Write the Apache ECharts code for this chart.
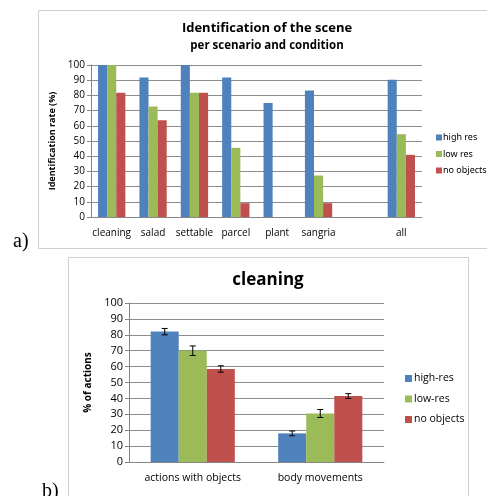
<!DOCTYPE html>
<html>
<head>
<meta charset="utf-8">
<script src="https://cdn.jsdelivr.net/npm/echarts@6/dist/echarts.min.js"></script>
<style>
  html, body { margin: 0; padding: 0; background: #fff; }
  #chart { width: 487px; height: 496px; }
</style>
</head>
<body>
<div id="chart"></div>
<script>
  // a) identification of the scene
  var scenes = ['cleaning', 'salad', 'settable', 'parcel', 'plant', 'sangria', '', 'all'];
  var highRes = [100, 91.7, 100, 91.7, 75, 83.3, null, 90.3];
  var lowRes = [100, 72.7, 81.8, 45.5, 0, 27.3, null, 54.5];
  var noObjects = [81.8, 63.6, 81.8, 9.1, 0, 9.1, null, 40.9];

  // b) cleaning, % of actions
  var actionCats = ['actions with objects', 'body movements'];
  var actHigh = [82, 18];
  var actLow = [70, 30.5];
  var actNone = [58.5, 41.5];
  var errHigh = [2, 1.5];
  var errLow = [3, 2.5];
  var errNone = [2, 1.5];

  var yTicks = [0, 100, 10];

  var blue = '#4F81BD', green = '#9BBB59', red = '#C0504D';
  var font = 'Open Sans';

  var myChart = echarts.init(document.getElementById('chart'));

  function errSeries(vals, errs, idx) {
    var data = vals.map(function (v, i) { return [i, v - errs[i], v + errs[i]]; });
    return {
      type: 'custom',
      xAxisIndex: 1,
      yAxisIndex: 1,
      z: 5,
      silent: true,
      data: data,
      renderItem: function (params, api) {
        var band = api.size([1, 0])[0];
        var off = band * 0.22 * (idx - 1);
        var lo = api.coord([api.value(0), api.value(1)]);
        var hi = api.coord([api.value(0), api.value(2)]);
        var x = lo[0] + off;
        var style = { stroke: '#000', lineWidth: 1 };
        return {
          type: 'group',
          children: [
            { type: 'line', shape: { x1: x, y1: lo[1], x2: x, y2: hi[1] }, style: style },
            { type: 'line', shape: { x1: x - 3, y1: lo[1], x2: x + 3, y2: lo[1] }, style: style },
            { type: 'line', shape: { x1: x - 3, y1: hi[1], x2: x + 3, y2: hi[1] }, style: style }
          ]
        };
      }
    };
  }

  function yAx(grid, size, name, gap) {
    return {
      gridIndex: grid,
      type: 'value',
      min: yTicks[0],
      max: yTicks[1],
      interval: yTicks[2],
      name: name,
      nameLocation: 'middle',
      nameRotate: 90,
      nameGap: gap,
      nameTextStyle: { fontFamily: font, fontWeight: 'bold', fontSize: size - 1, color: '#000' },
      axisLine: { show: true, lineStyle: { color: '#868686' } },
      axisTick: { show: true, length: 4, lineStyle: { color: '#868686' } },
      axisLabel: { fontFamily: font, fontSize: size, color: '#000', margin: 6 },
      splitLine: { lineStyle: { color: '#8c8c8c' } }
    };
  }

  function bar(name, data, color, axis, w) {
    return {
      name: name,
      type: 'bar',
      xAxisIndex: axis,
      yAxisIndex: axis,
      data: data,
      barWidth: w,
      barGap: '0%',
      itemStyle: { color: color }
    };
  }

  var option = {
    animation: false,
    textStyle: { fontFamily: font },
    graphic: [
      { type: 'rect', shape: { x: 38.5, y: 10.5, width: 470, height: 238 }, style: { fill: 'none', stroke: '#cfcfcf', lineWidth: 1 } },
      { type: 'rect', shape: { x: 68.5, y: 257.5, width: 400, height: 260 }, style: { fill: 'none', stroke: '#cfcfcf', lineWidth: 1 } },
      { type: 'text', style: { text: 'a)', x: 13, y: 242, font: '20px "Liberation Serif"', fill: '#000', textVerticalAlign: 'middle' } },
      { type: 'text', style: { text: 'b)', x: 42, y: 492, font: '20px "Liberation Serif"', fill: '#000', textVerticalAlign: 'middle' } },
      { type: 'text', style: { text: 'Identification of the scene', x: 267, y: 28, textAlign: 'center', textVerticalAlign: 'middle', font: 'bold 13px "Open Sans"', fill: '#000' } },
      { type: 'text', style: { text: 'per scenario and condition', x: 267, y: 46, textAlign: 'center', textVerticalAlign: 'middle', font: 'bold 11.5px "Open Sans"', fill: '#000' } },
      { type: 'text', style: { text: 'cleaning', x: 268, y: 280, textAlign: 'center', textVerticalAlign: 'middle', font: 'bold 17px "Open Sans"', fill: '#000' } }
    ],
    legend: [
      {
        data: ['high res', 'low res', 'no objects'],
        orient: 'vertical',
        left: 431,
        top: 128,
        itemWidth: 6,
        itemHeight: 6,
        itemGap: 7.5,
        icon: 'rect',
        textStyle: { fontFamily: 'Noto Sans', fontSize: 9, color: '#000', padding: [0, 0, 0, -4] }
      },
      {
        data: ['high-res', 'low-res', 'no objects '],
        orient: 'vertical',
        left: 400,
        top: 368,
        itemWidth: 7,
        itemHeight: 7,
        itemGap: 9.5,
        icon: 'rect',
        textStyle: { fontFamily: font, fontSize: 10.5, color: '#000', padding: [0, 0, 0, -3] }
      }
    ],
    grid: [
      { left: 91, right: 65, top: 65, bottom: 279 },
      { left: 129, right: 103, top: 303, bottom: 34 }
    ],
    xAxis: [
      {
        gridIndex: 0,
        type: 'category',
        data: scenes,
        axisLine: { lineStyle: { color: '#868686' } },
        axisTick: { show: false },
        axisLabel: { fontFamily: font, fontSize: 10, color: '#000', margin: 11, interval: 0 }
      },
      {
        gridIndex: 1,
        type: 'category',
        data: actionCats,
        axisLine: { lineStyle: { color: '#868686' } },
        axisTick: { show: false },
        axisLabel: { fontFamily: font, fontSize: 10.5, color: '#000', margin: 11, interval: 0 }
      }
    ],
    yAxis: [
      yAx(0, 10, 'Identification rate (%)', 31),
      yAx(1, 11, '% of actions', 36)
    ],
    series: [
      bar('high res', highRes, blue, 0, '22%'),
      bar('low res', lowRes, green, 0, '22%'),
      bar('no objects', noObjects, red, 0, '22%'),
      bar('high-res', actHigh, blue, 1, '22%'),
      bar('low-res', actLow, green, 1, '22%'),
      bar('no objects ', actNone, red, 1, '22%'),
      errSeries(actHigh, errHigh, 0),
      errSeries(actLow, errLow, 1),
      errSeries(actNone, errNone, 2)
    ]
  };

  myChart.setOption(option);
</script>
</body>
</html>
